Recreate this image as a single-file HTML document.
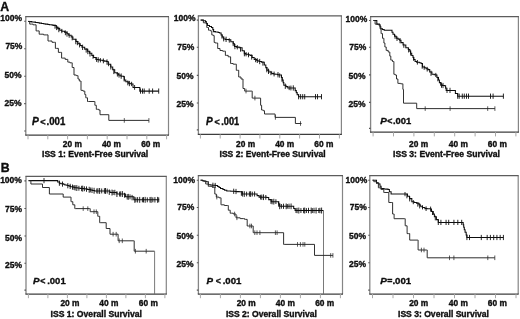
<!DOCTYPE html>
<html><head><meta charset="utf-8"><title>Kaplan-Meier survival by ISS stage</title>
<style>
html,body{margin:0;padding:0;background:#fff;}
body{width:520px;height:319px;overflow:hidden;font-family:"Liberation Sans",sans-serif;}
svg{display:block;}
</style></head><body>
<svg width="520" height="319" viewBox="0 0 520 319">
<defs><filter id="bl" x="0" y="0" width="520" height="319" filterUnits="userSpaceOnUse"><feGaussianBlur stdDeviation="0.38"/></filter></defs>
<rect width="520" height="319" fill="#fff"/>
<g filter="url(#bl)">
<path d="M25.8 135.1V16.7" fill="none" stroke="#858585" stroke-width="1.3"/>
<path d="M168.5 135.1V16.7" fill="none" stroke="#858585" stroke-width="1.2"/>
<path d="M25.2 16.7H169.0" fill="none" stroke="#5c5c5c" stroke-width="1.25"/>
<path d="M25.2 135.1H169.0" fill="none" stroke="#3c3c3c" stroke-width="1.25"/>
<path d="M28.0 135.1v4.2M47.8 135.1v4.2M67.6 135.1v4.2M87.4 135.1v4.2M107.2 135.1v4.2M127.0 135.1v4.2M146.8 135.1v4.2M166.6 135.1v4.2" stroke="#a8a8a8" stroke-width="1" fill="none"/>
<path d="M25.8 21.3h-1.6M25.8 48.8h-1.6M25.8 76.2h-1.6M25.8 103.6h-1.6M25.8 131.0h-1.6" stroke="#555" stroke-width="1.1" fill="none"/>
<path d="M198.4 134.3V15.8" fill="none" stroke="#858585" stroke-width="1.3"/>
<path d="M341.4 134.3V15.8" fill="none" stroke="#858585" stroke-width="1.2"/>
<path d="M197.8 15.8H341.9" fill="none" stroke="#5c5c5c" stroke-width="1.25"/>
<path d="M197.8 134.3H341.9" fill="none" stroke="#3c3c3c" stroke-width="1.25"/>
<path d="M200.4 134.3v4.2M220.2 134.3v4.2M240.1 134.3v4.2M259.9 134.3v4.2M279.8 134.3v4.2M299.6 134.3v4.2M319.5 134.3v4.2M339.4 134.3v4.2" stroke="#a8a8a8" stroke-width="1" fill="none"/>
<path d="M198.4 20.1h-1.6M198.4 47.2h-1.6M198.4 75.4h-1.6M198.4 103.0h-1.6M198.4 129.9h-1.6" stroke="#555" stroke-width="1.1" fill="none"/>
<path d="M370.6 132.2V16.6" fill="none" stroke="#858585" stroke-width="1.3"/>
<path d="M518.4 132.2V16.6" fill="none" stroke="#858585" stroke-width="1.2"/>
<path d="M370.0 16.6H518.9" fill="none" stroke="#5c5c5c" stroke-width="1.25"/>
<path d="M370.0 132.2H518.9" fill="none" stroke="#3c3c3c" stroke-width="1.25"/>
<path d="M373.1 132.2v4.2M393.5 132.2v4.2M413.9 132.2v4.2M434.3 132.2v4.2M454.7 132.2v4.2M475.1 132.2v4.2M495.5 132.2v4.2M515.9 132.2v4.2" stroke="#a8a8a8" stroke-width="1" fill="none"/>
<path d="M370.6 20.5h-1.6M370.6 47.2h-1.6M370.6 74.9h-1.6M370.6 102.4h-1.6M370.6 128.4h-1.6" stroke="#555" stroke-width="1.1" fill="none"/>
<path d="M26.0 294.0V176.4" fill="none" stroke="#858585" stroke-width="1.3"/>
<path d="M166.3 294.0V176.4" fill="none" stroke="#858585" stroke-width="1.2"/>
<path d="M25.4 176.4H166.8" fill="none" stroke="#5c5c5c" stroke-width="1.25"/>
<path d="M25.4 294.0H166.8" fill="none" stroke="#3c3c3c" stroke-width="1.25"/>
<path d="M28.4 294.0v4.2M47.9 294.0v4.2M67.4 294.0v4.2M86.9 294.0v4.2M106.4 294.0v4.2M125.9 294.0v4.2M145.4 294.0v4.2M164.9 294.0v4.2" stroke="#a8a8a8" stroke-width="1" fill="none"/>
<path d="M26.0 180.9h-1.6M26.0 208.5h-1.6M26.0 236.0h-1.6M26.0 263.3h-1.6M26.0 290.1h-1.6" stroke="#555" stroke-width="1.1" fill="none"/>
<path d="M198.4 294.0V175.7" fill="none" stroke="#858585" stroke-width="1.3"/>
<path d="M342.5 294.0V175.7" fill="none" stroke="#858585" stroke-width="1.2"/>
<path d="M197.8 175.7H343.0" fill="none" stroke="#5c5c5c" stroke-width="1.25"/>
<path d="M197.8 294.0H343.0" fill="none" stroke="#3c3c3c" stroke-width="1.25"/>
<path d="M200.4 294.0v4.2M220.4 294.0v4.2M240.4 294.0v4.2M260.4 294.0v4.2M280.4 294.0v4.2M300.4 294.0v4.2M320.4 294.0v4.2M340.4 294.0v4.2" stroke="#a8a8a8" stroke-width="1" fill="none"/>
<path d="M198.4 180.2h-1.6M198.4 207.5h-1.6M198.4 235.3h-1.6M198.4 262.8h-1.6M198.4 290.1h-1.6" stroke="#555" stroke-width="1.1" fill="none"/>
<path d="M369.8 294.0V175.7" fill="none" stroke="#858585" stroke-width="1.3"/>
<path d="M518.2 294.0V175.7" fill="none" stroke="#858585" stroke-width="1.2"/>
<path d="M369.2 175.7H518.7" fill="none" stroke="#5c5c5c" stroke-width="1.25"/>
<path d="M369.2 294.0H518.7" fill="none" stroke="#3c3c3c" stroke-width="1.25"/>
<path d="M372.5 294.0v4.2M393.0 294.0v4.2M413.5 294.0v4.2M434.0 294.0v4.2M454.5 294.0v4.2M475.0 294.0v4.2M495.5 294.0v4.2M516.0 294.0v4.2" stroke="#a8a8a8" stroke-width="1" fill="none"/>
<path d="M369.8 180.2h-1.6M369.8 207.5h-1.6M369.8 235.3h-1.6M369.8 262.8h-1.6M369.8 290.1h-1.6" stroke="#555" stroke-width="1.1" fill="none"/>
<path d="M28.0 21.4H30.3V21.6H31.8V21.9H34.1V22.1H35.5V22.4H38.0V22.8H39.4V23.1H41.5V23.4H43.5V23.8H45.1V24.1H47.8V24.4H49.4V24.8H52.2V25.1H53.7V25.5H56.2V27.1H57.7V28.6H59.7V30.2H61.8V31.2H64.5V32.2H67.0V33.8H68.7V35.3H71.2V36.9H72.9V39.2H76.0V41.4H78.0V43.7H80.2V45.5H81.9V47.3H84.7V49.1H87.6V51.2H89.4V53.3H91.8V55.4H93.6V57.4H95.9V59.4H98.3V59.8H99.9V60.2H102.8V60.7H104.5V61.1H106.6V61.5H108.2V64.2H110.7V66.9H112.7V69.8H114.7V72.8H117.0V73.8H118.4V74.9H120.2V75.9H121.7V76.2H123.6V76.6H124.3V80.0H125.8V81.7H128.3V83.3H130.0V83.7H131.7V84.0H133.0V87.4H139.8V91.1H158.7" fill="none" stroke="#101010" stroke-width="1.05" stroke-linejoin="miter"/>
<path d="M140.5 88.5v5.2M142.5 88.5v5.2M144.2 88.5v5.2M149.2 88.5v5.2M152.6 88.5v5.2M158.7 88.5v5.2M55.0 24.4v4.3M56.6 25.3v4.8M58.8 26.9v5.3M61.8 28.9v4.3M65.4 30.4v4.8M67.0 31.3v5.3M69.2 33.4v4.3M72.2 35.5v4.8M75.8 38.9v5.3M77.4 40.9v4.3M79.6 42.6v4.8M82.6 44.7v5.3M86.2 48.3v4.3M87.8 49.4v4.8M90.0 51.2v5.3M93.0 54.4v4.3M96.6 57.1v4.8M98.2 57.2v5.3M100.4 58.1v4.3M103.4 58.5v4.8M107.0 59.4v5.3M108.6 61.9v4.3M110.8 64.7v4.8M113.8 68.8v5.3M117.4 72.2v4.3M119.0 72.8v4.8M121.2 73.5v5.3M124.2 77.2v4.3M127.8 80.5v4.8M129.4 80.9v5.3M131.6 81.8v4.3M134.6 85.0v4.8" fill="none" stroke="#101010" stroke-width="0.90"/>
<path d="M28.0 21.4H29.7V24.1H31.4H33.1V24.8H34.8H36.1V30.9H37.5H39.2V34.2H40.9H43.6V34.9H46.3H48.0V41.0H49.6H52.0V42.3H54.4H55.4V48.4H56.4H58.4V52.4H60.4H61.6V58.1H62.8H65.2V59.4H67.5H67.8V62.1H68.2H69.9V62.8H71.6H72.2V67.5H72.9H74.0V75.0H75.0H76.3V75.6H77.7H78.0V79.0H78.3H79.3V81.0H80.3H81.0V90.4H81.7H83.1V91.1H84.5H84.8V94.5H85.1H85.8V97.8H86.5H87.5V101.5H88.5H94.6H94.9V105.3H95.3H96.3V109.3H97.3H98.7V110.0H100.0V114.7H108.8V120.4H148.9" fill="none" stroke="#262626" stroke-width="0.95" stroke-linejoin="miter"/>
<path d="M124.3 118.1v4.6M148.9 118.1v4.6" fill="none" stroke="#262626" stroke-width="0.75"/>
<path d="M200.7 20.1H203.4V20.8H205.5V21.4H206.3V23.4H207.5V25.5H209.5V26.5H211.5V27.5H212.8V29.6H213.6V31.6H215.4V32.0H218.1V32.5H219.6V32.9H221.1V34.9H222.2V37.0H223.7V39.0H225.5V39.4H228.4V39.7H230.8V41.7H233.2V43.7H234.5V46.4H236.6V47.1H239.2V47.8H242.1V50.7H244.3V53.6H245.8V54.2H248.4V54.8H250.1V55.4H252.1V57.5H254.2V59.5H256.5V60.2H257.9V60.9H259.3V61.5H261.6V62.2H264.3V64.9H265.8V67.6H267.0V70.3H268.8V71.9H271.7V73.6H273.6V73.9H275.0V74.3H277.6V74.7H279.2V75.0H281.5V77.5H282.2V80.1H283.2V82.6H283.8V85.2H286.0V86.6H287.8V88.0H293.9H295.2V90.6H296.3V92.6H297.2V94.7H298.6V96.7H321.5" fill="none" stroke="#101010" stroke-width="1.05" stroke-linejoin="miter"/>
<path d="M298.6 94.1v5.2M300.6 94.1v5.2M302.7 94.1v5.2M304.7 94.1v5.2M315.5 94.1v5.2M317.5 94.1v5.2M321.5 94.1v5.2M222.0 34.3v4.3M223.7 36.6v4.8M226.1 36.7v5.3M229.3 38.3v4.3M233.2 41.3v4.8M234.9 43.9v5.3M237.3 45.1v4.3M240.5 46.9v4.8M244.4 51.0v5.3M246.1 52.0v4.3M248.5 52.5v4.8M251.7 54.3v5.3M255.6 57.9v4.3M257.3 58.2v4.8M259.7 58.9v5.3M262.9 61.3v4.3M266.8 67.5v4.8M268.5 68.7v5.3M270.9 70.9v4.3M274.1 71.6v4.8M278.0 72.1v5.3M279.7 73.4v4.3M282.1 77.1v4.8M285.3 83.6v5.3M289.2 85.8v4.3M290.9 85.6v4.8M293.3 85.3v5.3" fill="none" stroke="#101010" stroke-width="0.90"/>
<path d="M200.7 20.1H203.4V22.8H206.1H206.8V27.5H207.5H208.5V30.2H209.5H210.5V30.9H211.5H211.8V34.9H212.2H213.2V35.6H214.2V42.4H215.2V43.0H216.3H217.7V48.5H219.0H220.0V50.5H221.0H222.7V51.2H224.4H225.4V55.4H226.5H228.2V56.8H229.9H230.6V63.5H231.2H233.2V64.2H235.3H236.3V70.3H237.3H238.7V77.0H240.0H241.0V79.0H242.0H243.0V88.5H244.0H244.7V91.1H245.4H251.5H252.2V98.1H252.8H260.3H260.6V105.3H260.9H261.6V110.0H262.3H263.3V110.7H264.3H264.5V114.0H264.6H275.1V117.4H295.4V123.5H301.5" fill="none" stroke="#262626" stroke-width="0.95" stroke-linejoin="miter"/>
<path d="M246.0 88.8v4.6M254.9 95.8v4.6M275.4 115.1v4.6M300.5 121.2v4.6" fill="none" stroke="#262626" stroke-width="0.75"/>
<path d="M373.4 20.5H376.8V24.1H379.5V24.8H380.0V26.8H380.8V28.8H382.5V29.5H384.2V30.2H390.3H392.0V32.2H393.0V34.2H394.5V36.2H396.3V38.3H398.2V39.3H399.7V40.3H401.0V42.6H403.1V45.0H405.8V47.7H408.3V49.4H409.8V51.1H410.6V53.2H411.7V55.4H413.0V57.4H413.8V59.5H415.1V61.5H416.6V62.2H419.3V62.8H421.1V63.5H422.5V66.9H424.7V67.8H426.1V68.7H427.9V69.6H429.7V71.9H431.9V74.3H434.2V74.7H436.0V75.0H436.9V77.5H438.5V80.0H439.4V82.6H440.7V85.1H442.6V85.4H444.6V85.8H445.6V88.1H446.2V90.4H453.8H455.4V93.5H457.7V96.2H503.4" fill="none" stroke="#101010" stroke-width="1.05" stroke-linejoin="miter"/>
<path d="M441.5 82.6v5.2M443.0 82.9v5.2M447.0 87.8v5.2M450.0 87.8v5.2M457.7 93.6v5.2M459.2 93.6v5.2M462.3 93.6v5.2M464.3 93.6v5.2M466.5 93.6v5.2M468.5 93.6v5.2M490.5 93.6v5.2M493.1 93.6v5.2M503.4 93.6v5.2M395.0 34.6v4.1M397.0 36.4v4.6M400.0 38.1v5.1M403.8 43.7v4.1M408.6 47.8v4.6M410.6 50.5v5.1M413.6 56.7v4.1M417.4 60.0v4.6M422.2 63.6v5.1M424.2 65.7v4.1M427.2 66.9v4.6M431.0 70.7v5.1M435.8 72.9v4.1M437.8 76.7v4.6" fill="none" stroke="#101010" stroke-width="0.90"/>
<path d="M373.4 20.5H375.1V24.1H376.8H378.1V24.8H379.5H380.1V28.8H380.8H381.1V33.6H381.5H382.5V38.3H383.5H383.9V43.0H384.2H384.9V47.0H385.5H386.2V50.4H386.9H388.2V52.0H389.5H389.8V56.1H390.1H390.8V60.1H391.5H392.5V61.5H393.5H393.9V74.3H394.2H395.2V75.0H396.2H396.5V79.0H396.9H397.9V83.4H398.9H400.7V83.8H402.5H402.9V89.4H403.2H403.5V103.2H403.9H416.7V108.6H494.9" fill="none" stroke="#262626" stroke-width="0.95" stroke-linejoin="miter"/>
<path d="M425.2 106.3v4.6M450.1 106.3v4.6M487.7 106.3v4.6M494.9 106.3v4.6" fill="none" stroke="#262626" stroke-width="0.75"/>
<path d="M28.6 180.6H55.5H57.7V181.9H59.4V183.2H60.9V183.8H63.5V184.3H64.9V184.9H67.1V185.5H69.0V186.1H70.5V186.7H73.1V187.2H74.8V187.8H77.5V188.0H79.1V188.2H80.7V188.5H83.6V188.7H85.5V188.9H87.5V189.4H90.6V189.9H92.3V190.4H94.6V190.9H106.9H110.0V192.5H115.4H116.9V194.0H123.8H125.4V196.8H131.5H133.8V199.8H159.2" fill="none" stroke="#101010" stroke-width="1.05" stroke-linejoin="miter"/>
<path d="M44.0 178.0v5.2M59.4 180.6v5.2M62.5 181.5v5.2M67.8 183.1v5.2M70.2 183.8v5.2M72.5 184.5v5.2M74.0 185.1v4.9M75.1 185.1v5.4M76.8 185.1v5.9M78.9 185.8v4.9M81.6 185.8v5.4M82.7 185.7v5.9M84.4 186.3v4.9M86.5 186.4v5.4M89.2 186.8v5.9M90.3 187.5v4.9M92.0 187.6v5.4M94.1 187.8v5.9M96.8 188.5v4.9M97.9 188.2v5.4M99.6 188.0v5.9M101.7 188.5v4.9M104.4 188.2v5.4M105.5 188.0v5.9M107.2 188.6v4.9M109.3 189.5v5.4M112.0 189.6v5.9M113.1 190.1v4.9M114.8 189.8v5.4M116.9 191.1v5.9M119.6 191.6v4.9M120.7 191.3v5.4M122.4 191.1v5.9M124.5 192.8v4.9M127.2 194.1v5.4M128.3 193.9v5.9M130.0 194.4v4.9M132.1 194.9v5.4M134.8 196.9v5.9M135.9 197.4v4.9M137.6 197.1v5.4M139.7 196.9v5.9M142.4 197.4v4.9M143.5 197.1v5.4M145.2 196.9v5.9M147.3 197.4v4.9M150.0 197.1v5.4M151.1 196.9v5.9M152.8 197.4v4.9M154.9 197.1v5.4M157.6 196.9v5.9M158.7 197.4v4.9" fill="none" stroke="#101010" stroke-width="0.90"/>
<path d="M28.6 180.6H30.9V184.0H42.5V187.5H49.4V194.0H63.2V197.1H70.2H71.0V201.7H71.7H72.8V204.8H74.0H74.8V208.6H75.5H89.4H90.2V211.7H90.9H97.1H97.8V216.3H98.6H99.7V222.7H100.8H106.2V228.5H110.0V234.2H116.9H118.1V240.8H119.2H133.8H134.2V251.2H134.6H154.6" fill="none" stroke="#262626" stroke-width="0.95" stroke-linejoin="miter"/>
<path d="M154.6 251.2V294.0" fill="none" stroke="#6a6a6a" stroke-width="0.9"/>
<path d="M83.2 206.3v4.6M87.8 206.3v4.6M94.0 209.4v4.6M96.3 209.4v4.6M113.1 231.9v4.6M116.2 231.9v4.6M119.2 238.5v4.6M122.3 238.5v4.6M135.4 248.9v4.6M146.2 248.9v4.6" fill="none" stroke="#262626" stroke-width="0.75"/>
<path d="M200.6 180.2H202.6V180.7H204.0V181.2H206.0V181.7H208.3V184.8H210.6V185.0H212.3V185.3H215.2V185.5H217.6V186.5H219.1V187.4H220.5V188.4H222.9V189.4H224.6V190.2H226.8V190.9H229.1V191.0H230.7V191.2H233.4V191.3H235.0V191.4H236.6V191.6H239.1V191.7H242.2V194.0H255.2H257.1V195.6H259.1V197.1H261.5V197.2H263.0V197.2H264.4V197.3H266.8V197.4H268.7V199.6H271.2V201.7H277.4H278.7V204.0H279.7V206.3H292.8H293.7V208.4H295.1V210.5H323.5" fill="none" stroke="#101010" stroke-width="1.05" stroke-linejoin="miter"/>
<path d="M323.5 210.5V294.0" fill="none" stroke="#6a6a6a" stroke-width="0.9"/>
<path d="M212.9 182.7v5.2M215.2 182.9v5.2M233.7 188.7v5.2M236.0 188.9v5.2M241.4 191.1v4.7M242.6 191.4v5.2M244.3 191.2v5.7M246.6 191.7v4.7M249.4 191.4v5.2M250.6 191.2v5.7M252.3 191.7v4.7M254.6 191.4v5.2M260.6 194.8v4.7M261.8 194.6v5.2M263.5 194.4v5.7M265.8 195.0v4.7M271.0 199.2v4.7M272.1 199.1v5.2M273.8 198.8v5.7M275.9 199.3v4.7M278.6 201.5v5.2M279.7 203.5v5.7M281.4 204.0v4.7M283.5 203.7v5.2M286.2 203.5v5.7M287.3 204.0v4.7M289.0 203.7v5.2M291.1 203.5v5.7M296.0 208.1v4.9M297.1 207.8v5.4M298.8 207.6v5.9M300.9 208.1v4.9M303.6 207.8v5.4M304.7 207.6v5.9M306.4 208.1v4.9M308.5 207.8v5.4M311.2 207.6v5.9M312.3 208.1v4.9M314.0 207.8v5.4M316.1 207.6v5.9M318.8 208.1v4.9M319.9 207.8v5.4M321.6 207.6v5.9" fill="none" stroke="#101010" stroke-width="0.90"/>
<path d="M200.6 180.2H202.6V180.9H204.5H205.7V184.0H206.8H208.3V186.3H209.8H212.2V187.1H214.5H214.8V194.0H215.2H216.3V197.1H217.5H219.1V197.8H220.6H221.0V204.8H221.4H224.4V205.5H227.5H228.3V210.2H229.1H230.2V213.2H231.4H233.3V214.0H235.2H236.0V217.8H236.8H240.2V218.6H243.7H244.6V219.4H245.5H247.2V226.0H248.8H252.1H253.2V232.7H254.3H283.1H283.6V244.4H284.2H314.5V255.4H332.9" fill="none" stroke="#262626" stroke-width="0.95" stroke-linejoin="miter"/>
<path d="M216.8 194.8v4.6M234.6 211.7v4.6M236.9 215.5v4.6M249.9 223.7v4.6M251.5 223.7v4.6M254.8 230.4v4.6M257.0 230.4v4.6M259.9 230.4v4.6M275.4 230.4v4.6M277.1 230.4v4.6M297.5 242.1v4.6M300.4 242.1v4.6M303.0 242.1v4.6M304.8 242.1v4.6M330.7 253.1v4.6M332.9 253.1v4.6" fill="none" stroke="#262626" stroke-width="0.75"/>
<path d="M372.6 180.2H375.7H376.5V183.2H378.8V184.0H380.0V186.3H381.1V188.6H384.0V188.9H385.7V189.1H388.0V189.4H389.4V191.7H391.1V194.0H404.9H407.5V196.3H409.5V198.6H411.8V201.7H414.1V202.4H416.5V203.2H418.9V204.8H420.3V206.3H422.3V207.4H424.9V208.6H427.0V208.7H428.4V208.8H430.5V208.9H431.5V211.5H433.3V214.1H434.4V216.7H436.4V219.6H438.3V222.4H462.5H463.2V224.8H463.7V227.3H464.3V229.7H465.1V232.3H466.2V234.9H466.9V237.5H503.4" fill="none" stroke="#101010" stroke-width="1.05" stroke-linejoin="miter"/>
<path d="M438.3 219.8v5.2M440.9 219.8v5.2M446.1 219.8v5.2M448.7 219.8v5.2M453.9 219.8v5.2M457.8 219.8v5.2M461.7 219.8v5.2M466.9 234.9v5.2M469.5 234.9v5.2M481.3 234.9v5.2M487.2 234.9v5.2M490.4 234.9v5.2M493.7 234.9v5.2M496.9 234.9v5.2M500.2 234.9v5.2M503.4 234.9v5.2M405.0 192.1v4.1M406.9 193.7v4.6M409.7 196.3v5.1M413.3 200.1v4.1M417.8 202.0v4.6M419.7 203.3v5.1M422.5 205.3v4.1M426.1 206.4v4.6M430.6 206.6v5.1M432.5 210.9v4.1M435.3 215.7v4.6" fill="none" stroke="#101010" stroke-width="0.90"/>
<path d="M372.6 180.2H373.8V181.7H374.9H376.4V182.5H378.0H378.4V187.8H378.8H381.1V189.4H383.4H383.8V192.5H384.2H388.8V202.5H391.8H392.6V214.0H393.4H394.1V218.7H394.9H404.7H405.2V225.8H405.8H407.1V233.6H408.4H409.7V240.1H411.0H417.5H418.1V250.0H418.8H426.6H427.2V257.8H427.9H494.8" fill="none" stroke="#262626" stroke-width="0.95" stroke-linejoin="miter"/>
<path d="M421.4 247.7v4.6M424.0 247.7v4.6M449.5 255.5v4.6M453.9 255.5v4.6M487.8 255.5v4.6M494.8 255.5v4.6" fill="none" stroke="#262626" stroke-width="0.75"/>
<g font-family="'Liberation Sans', sans-serif" font-weight="bold" fill="#0a0a0a" stroke="#0a0a0a" stroke-width="0.32">
<text x="0.2" y="10.7" font-size="12.30" text-anchor="start">A</text>
<text x="0.7" y="172.2" font-size="12.30" text-anchor="start">B</text>
<text x="22.0" y="21.1" font-size="8.50" text-anchor="end">100%</text>
<text x="22.4" y="49.0" font-size="8.50" text-anchor="end">75%</text>
<text x="21.6" y="77.8" font-size="8.50" text-anchor="end">50%</text>
<text x="21.6" y="105.9" font-size="8.50" text-anchor="end">25%</text>
<text x="195.5" y="20.8" font-size="8.50" text-anchor="end">100%</text>
<text x="194.3" y="49.7" font-size="8.50" text-anchor="end">75%</text>
<text x="193.6" y="78.8" font-size="8.50" text-anchor="end">50%</text>
<text x="193.6" y="106.6" font-size="8.50" text-anchor="end">25%</text>
<text x="367.3" y="21.6" font-size="8.50" text-anchor="end">100%</text>
<text x="366.3" y="49.7" font-size="8.50" text-anchor="end">75%</text>
<text x="365.6" y="78.8" font-size="8.50" text-anchor="end">50%</text>
<text x="365.6" y="106.6" font-size="8.50" text-anchor="end">25%</text>
<text x="21.9" y="183.1" font-size="8.50" text-anchor="end">100%</text>
<text x="22.1" y="211.6" font-size="8.50" text-anchor="end">75%</text>
<text x="22.1" y="240.8" font-size="8.50" text-anchor="end">50%</text>
<text x="22.1" y="268.4" font-size="8.50" text-anchor="end">25%</text>
<text x="195.0" y="183.1" font-size="8.50" text-anchor="end">100%</text>
<text x="194.3" y="210.0" font-size="8.50" text-anchor="end">75%</text>
<text x="193.6" y="238.9" font-size="8.50" text-anchor="end">50%</text>
<text x="193.6" y="266.8" font-size="8.50" text-anchor="end">25%</text>
<text x="367.3" y="183.1" font-size="8.50" text-anchor="end">100%</text>
<text x="366.8" y="210.0" font-size="8.50" text-anchor="end">75%</text>
<text x="366.1" y="239.1" font-size="8.50" text-anchor="end">50%</text>
<text x="366.1" y="266.8" font-size="8.50" text-anchor="end">25%</text>
<text x="72.3" y="146.9" font-size="8.40" text-anchor="middle">20 m</text>
<text x="111.5" y="146.9" font-size="8.40" text-anchor="middle">40 m</text>
<text x="150.7" y="146.9" font-size="8.40" text-anchor="middle">60 m</text>
<text x="245.6" y="146.9" font-size="8.40" text-anchor="middle">20 m</text>
<text x="284.7" y="146.9" font-size="8.40" text-anchor="middle">40 m</text>
<text x="323.8" y="146.9" font-size="8.40" text-anchor="middle">60 m</text>
<text x="418.6" y="146.9" font-size="8.40" text-anchor="middle">20 m</text>
<text x="458.4" y="146.9" font-size="8.40" text-anchor="middle">40 m</text>
<text x="497.4" y="146.9" font-size="8.40" text-anchor="middle">60 m</text>
<text x="70.0" y="305.6" font-size="8.40" text-anchor="middle">20 m</text>
<text x="108.9" y="305.6" font-size="8.40" text-anchor="middle">40 m</text>
<text x="148.4" y="305.6" font-size="8.40" text-anchor="middle">60 m</text>
<text x="246.2" y="305.6" font-size="8.40" text-anchor="middle">20 m</text>
<text x="285.4" y="305.6" font-size="8.40" text-anchor="middle">40 m</text>
<text x="324.7" y="305.6" font-size="8.40" text-anchor="middle">60 m</text>
<text x="418.7" y="305.6" font-size="8.40" text-anchor="middle">20 m</text>
<text x="458.3" y="305.6" font-size="8.40" text-anchor="middle">40 m</text>
<text x="497.3" y="305.6" font-size="8.40" text-anchor="middle">60 m</text>
<text x="42.0" y="156.5" font-size="8.60" text-anchor="start" textLength="106.2" lengthAdjust="spacingAndGlyphs">ISS 1: Event-Free Survival</text>
<text x="219.5" y="156.5" font-size="8.60" text-anchor="start" textLength="106.1" lengthAdjust="spacingAndGlyphs">ISS 2: Event-Free Survival</text>
<text x="393.0" y="156.5" font-size="8.60" text-anchor="start" textLength="107.0" lengthAdjust="spacingAndGlyphs">ISS 3: Event-Free Survival</text>
<text x="50.5" y="316.6" font-size="8.60" text-anchor="start" textLength="91.5" lengthAdjust="spacingAndGlyphs">ISS 1: Overall Survival</text>
<text x="225.9" y="316.6" font-size="8.60" text-anchor="start" textLength="91.0" lengthAdjust="spacingAndGlyphs">ISS 2: Overall Survival</text>
<text x="398.0" y="316.6" font-size="8.60" text-anchor="start" textLength="91.0" lengthAdjust="spacingAndGlyphs">ISS 3: Overall Survival</text>
<text x="32.0" y="125.2" font-size="10.20" font-style="italic">P</text>
<text x="40.3" y="124.9" font-size="9.20">&lt;</text>
<text x="46.6" y="125.2" font-size="10.20" textLength="18.7" lengthAdjust="spacingAndGlyphs">.001</text>
<text x="206.0" y="125.0" font-size="10.00" font-style="italic">P</text>
<text x="214.6" y="124.7" font-size="9.00">&lt;</text>
<text x="221.3" y="125.0" font-size="10.00" textLength="17.9" lengthAdjust="spacingAndGlyphs">.001</text>
<text x="380.3" y="124.3" font-size="9.80" font-style="italic">P</text>
<text x="387.2" y="124.0" font-size="8.80">&lt;</text>
<text x="393.0" y="124.3" font-size="9.80" textLength="18.3" lengthAdjust="spacingAndGlyphs">.001</text>
<text x="32.9" y="284.2" font-size="9.80" font-style="italic">P</text>
<text x="40.3" y="283.9" font-size="8.80">&lt;</text>
<text x="47.2" y="284.2" font-size="9.80" textLength="18.5" lengthAdjust="spacingAndGlyphs">.001</text>
<text x="206.4" y="284.2" font-size="9.80" font-style="italic">P</text>
<text x="215.8" y="283.9" font-size="8.80">&lt;</text>
<text x="222.7" y="284.2" font-size="9.80" textLength="18.8" lengthAdjust="spacingAndGlyphs">.001</text>
<text x="380.3" y="284.2" font-size="9.80" font-style="italic">P</text>
<text x="387.2" y="283.9" font-size="8.80">=</text>
<text x="392.4" y="284.2" font-size="9.80" textLength="18.8" lengthAdjust="spacingAndGlyphs">.001</text>
</g>
</g>
</svg>
</body></html>
